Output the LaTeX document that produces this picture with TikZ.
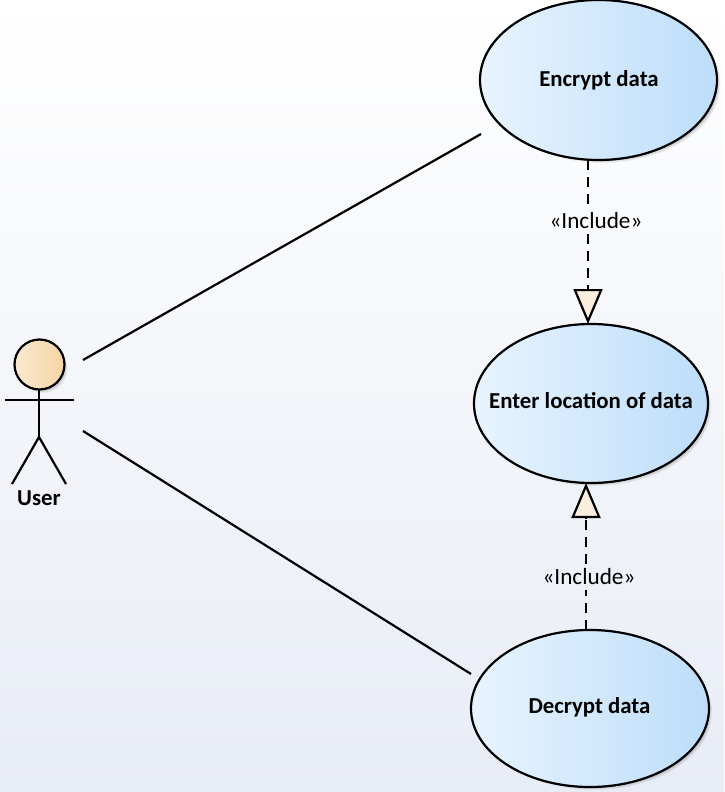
\documentclass[tikz,border=0pt]{standalone}
\usepackage{fontspec}
\setmainfont{Carlito}
\usetikzlibrary{arrows.meta,shapes.geometric}
\definecolor{bgtop}{HTML}{FFFFFF}
\definecolor{bgbot}{HTML}{E8ECF5}
\definecolor{ucleft}{HTML}{E8F4FF}
\definecolor{ucright}{HTML}{BDDDFA}
\definecolor{headleft}{HTML}{FBE9CF}
\definecolor{headright}{HTML}{F5D4A4}
\definecolor{tipfill}{HTML}{FAEEDD}
\tikzset{
  x=1pt,y=-1pt,
  ucase/.style={ellipse,draw=black,line width=2.2pt,left color=ucleft,right color=ucright,inner sep=0pt,outer sep=0pt},
  uctext/.style={inner sep=0pt,font=\fontsize{22.8}{27}\selectfont\bfseries},
  assoc/.style={line width=2.2pt,black},
  incl/.style={line width=2.8pt,black,dash pattern=on 10pt off 7pt},
  incltip/.style={line width=2.2pt,black,-{Triangle[length=35pt,width=29pt,fill=tipfill]}},
  stereo/.style={inner sep=0pt,font=\fontsize{23.2}{27}\selectfont},
  limb/.style={line width=2.2pt,black},
  shadowring/.style={fill=black,fill opacity=0.05,draw=none}
}
\begin{document}
\begin{tikzpicture}
\useasboundingbox (0,0) rectangle (724,792);
\shade[top color=bgtop,bottom color=bgbot] (0,0) rectangle (724,792);
% soft shadows
\foreach \d in {1,2,3,4,5}{
  \fill[shadowring] (602.5,84) ellipse [x radius=119-\d,y radius=80-\d];
  \fill[shadowring] (595,407.5) ellipse [x radius=117-\d,y radius=79.5-\d];
  \fill[shadowring] (594,712.5) ellipse [x radius=119-\d,y radius=78.5-\d];
  \fill[shadowring] (43,368.5) circle [radius=25.5-\d];
}
\node[ucase,minimum width=237pt,minimum height=160pt] (enc) at (598.5,80) {};
\node[ucase,minimum width=234pt,minimum height=159pt] (loc) at (591,403.5) {};
\node[ucase,minimum width=238pt,minimum height=157pt] (dec) at (590,708.5) {};
\node[uctext] (enctext) at (599,80.5) {Encrypt data};
\node[uctext] (loctext) at (591,401) {Enter location of data};
\node[uctext] (dectext) at (589.5,707.5) {Decrypt data};
% actor
\node[circle,draw=black,line width=2.2pt,left color=headleft,right color=headright,minimum size=50pt,inner sep=0pt,outer sep=0pt] (head) at (39.5,364.5) {};
\coordinate (hip) at (39,437);
\coordinate (armL) at (5,400);
\coordinate (armR) at (74,400);
\coordinate (footL) at (12,484);
\coordinate (footR) at (66,484);
\draw[limb] (head.south -| hip) -- (hip);
\draw[limb] (armL) -- (armR);
\draw[limb] (footL) -- (hip) -- (footR);
\node[uctext] (user) at (39,498) {User};
% associations
\coordinate (u1) at (83,360);
\coordinate (e1) at (481,134);
\coordinate (u2) at (83,431);
\coordinate (d1) at (471,674);
\draw[assoc] (u1) -- (e1);
\draw[assoc] (u2) -- (d1);
% includes
\node[stereo] (inc1) at (596,221) {«Include»};
\node[stereo] (inc2) at (589,577) {«Include»};
\coordinate (enc1) at (588,160);
\coordinate (loc1) at (588,324);
\coordinate (loc2) at (586,483);
\coordinate (dec2) at (586,630);
\coordinate (inc1t) at (588,208);
\coordinate (inc1b) at (588,234);
\coordinate (inc2t) at (586,564);
\coordinate (inc2b) at (586,590);
\coordinate (tip1) at (588,288);
\coordinate (tip2) at (586,519);
\draw[incl] (enc1) -- (inc1t);
\draw[incl] (inc1b) -- (tip1);
\draw[incltip] (tip1) -- (loc1);
\draw[incl] (dec2) -- (inc2b);
\draw[incl] (inc2t) -- (tip2);
\draw[incltip] (tip2) -- (loc2);
\end{tikzpicture}
\end{document}
